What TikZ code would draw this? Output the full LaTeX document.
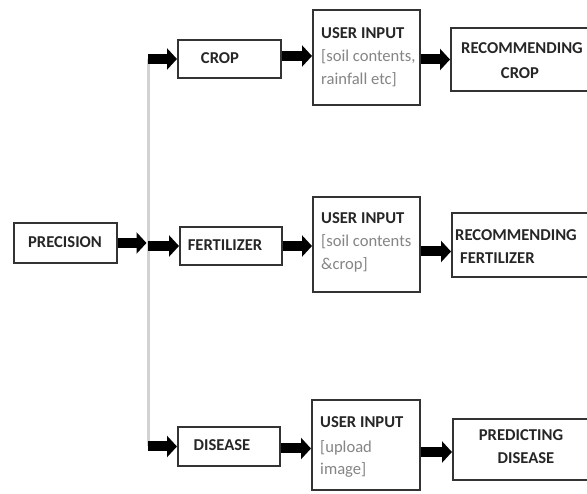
\documentclass[tikz,border=0pt]{standalone}
\usepackage{fontspec}
\setmainfont{Carlito}
\usetikzlibrary{arrows.meta,calc}
\definecolor{boxline}{HTML}{333333}
\definecolor{graytext}{HTML}{858585}
\definecolor{busgray}{HTML}{D2D2D2}
\tikzset{
  box/.style={draw=boxline, line width=2pt, fill=white, inner sep=0pt},
  lbl/.style={font=\fontsize{16.6}{22}\selectfont\bfseries, text=black!85, inner sep=0pt},
  sub/.style={font=\fontsize{16.6}{22}\selectfont, text=graytext, inner sep=0pt, anchor=west},
  arr/.style={line width=10pt, -{Triangle[length=10pt,width=21pt]}, black},
  bus/.style={line width=3pt, busgray}
}
\begin{document}
\begin{tikzpicture}[x=1pt,y=-1pt]
\useasboundingbox (0,0) rectangle (587,494);
\clip (0,0) rectangle (587,494);
% left column
\node[box, minimum width=103pt, minimum height=40pt] (prec) at (65.5,243) {};
\node[lbl] at (65,242) {PRECISION};
% middle column
\node[box, minimum width=103pt, minimum height=38pt] (crop) at (229.5,59) {};
\node[lbl] at (220,58) {CROP};
\node[box, minimum width=102pt, minimum height=38pt] (fert) at (231,246) {};
\node[lbl] at (225,245) {FERTILIZER};
\node[box, minimum width=102pt, minimum height=39pt] (dis) at (229,446.5) {};
\node[lbl] at (222,445) {DISEASE};
% user input boxes
\node[box, minimum width=107pt, minimum height=95pt] (ui1) at (366.5,57.5) {};
\node[lbl, anchor=west] at (321,33) {USER INPUT};
\node[sub] at (321,57) {[soil contents,};
\node[sub] at (321,80) {rainfall etc]};
\node[box, minimum width=107pt, minimum height=95pt] (ui2) at (366.5,244.5) {};
\node[lbl, anchor=west] at (321,218) {USER INPUT};
\node[sub] at (321,242) {[soil contents};
\node[sub] at (321,265) {\&crop]};
\node[box, minimum width=108pt, minimum height=90pt] (ui3) at (366,445) {};
\node[lbl, anchor=west] at (320,422) {USER INPUT};
\node[sub] at (320,448) {[upload};
\node[sub] at (320,470) {image]};
% right boxes (cut by the page edge)
\node[box, minimum width=150pt, minimum height=63pt] (rec1) at (526,59.5) {};
\node[lbl] at (522,48) {RECOMMENDING};
\node[lbl] at (520,73) {CROP};
\node[box, minimum width=150pt, minimum height=64pt] (rec2) at (527,245) {};
\node[lbl, anchor=west] at (455,235) {RECOMMENDING};
\node[lbl, anchor=west] at (460,258) {FERTILIZER};
\node[box, minimum width=150pt, minimum height=61pt] (pred) at (528,449.5) {};
\node[lbl] at (521,435) {PREDICTING};
\node[lbl] at (526,458) {DISEASE};
% bus
\coordinate (bus) at (148,243);
\draw[bus] (bus |- crop.west) -- (bus |- dis.west);
% arrows
\draw[arr] (prec.east) -- ($(bus)+(-1.5,0)$);
\draw[arr] (bus |- crop.west) -- (crop.west);
\draw[arr] (bus |- fert.west) -- (fert.west);
\draw[arr] (bus |- dis.west) -- (dis.west);
\draw[arr] ($(crop.east)+(0,-3)$) -- (ui1.west |- {$(crop.east)+(0,-3)$});
\draw[arr] (fert.east) -- (ui2.west |- fert.east);
\draw[arr] ($(dis.east)+(0,2)$) -- (ui3.west |- {$(dis.east)+(0,2)$});
\draw[arr] (ui1.east |- rec1.west) -- (rec1.west);
\draw[arr] ($(ui2.east)+(0,7)$) -- (rec2.west |- {$(ui2.east)+(0,7)$});
\draw[arr] ($(ui3.east)+(0,7)$) -- (pred.west |- {$(ui3.east)+(0,7)$});
\end{tikzpicture}
\end{document}
